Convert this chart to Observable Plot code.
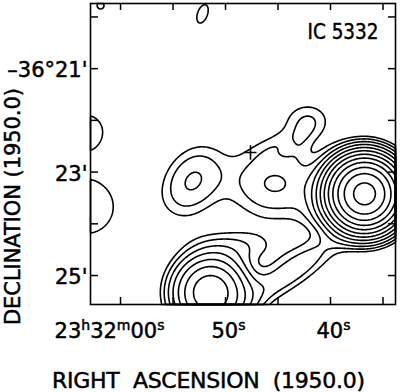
<!DOCTYPE html>
<html><head><meta charset="utf-8">
<script src="https://cdn.jsdelivr.net/npm/d3@7"></script>
<script src="https://cdn.jsdelivr.net/npm/@observablehq/plot@0.6"></script>
<style>
html,body{margin:0;padding:0;background:#fff;}
svg{display:block;}
</style></head><body><div id="chart"></div>
<script>
// ---- text ----
const title = "IC 5332";
const xTitle = "RIGHT  ASCENSION  (1950.0)";
const yTitle = "DECLINATION (1950.0)";
// RA: seconds after 23h31m (60 = 23h32m00s); Dec: arcmin south of -36°
const xDomain = [62.86, 33.81];
const yDomain = [25.56, 19.74];
const xTickValues = [60, 55, 50, 45, 40, 35];
const xLabelValues = [60, 50, 40];
const xLabelTexts = ["23h32m00s", "50s", "40s"];
const yTickValues = [20, 21, 22, 23, 24, 25];
const yLabelValues = [21, 23, 25];
const yLabelTexts = ["\u201336\u00b021'", "23'", "25'"];
// optical position marker
const crossRA = [47.62];
const crossDec = [22.62];
// emission components (RA s, Dec arcmin, peak in units of lowest contour, widths arcsec, angle deg)
const compRA    = [36.76, 51.43, 53.24, 45.33, 42.19, 63.24, 63.24, 52.19, 61.90, 43.81, 48.57, 42.76, 45.24, 41.43];
const compDec   = [23.42, 25.33, 23.18, 23.22, 22.00, 22.20, 23.67, 19.94, 19.78, 24.94, 24.42, 22.45, 22.45, 23.84];
const compPeak  = [102, 15.6, 2.28, 2.35, 1.44, 1.45, 1.48, 1.1, 1.05, 2.0, 1.15, 0.45, 0.6, 0.6];
const compMajor = [21.9, 24.8, 32, 38, 22, 20.2, 34.8, 25.5, 12.8, 52, 35, 16.2, 23.2, 17.4];
const compMinor = [21.9, 24.8, 23, 30, 17.4, 20.2, 34.8, 13.2, 12.8, 14, 14, 8.1, 9.3, 17.4];
const compAngle = [0, 0, -60, 0, 0, 0, 0, -70, 0, -34.5, 0, -65, -25, 0];
// contour levels
const levels = [1, 1.5, 2.25, 3.375, 5.06, 7.59, 11.39, 17.09, 25.6, 38.4, 57.7, 86.5];

const raToArcsec = 12.17, decToArcsec = 60;
function field(ra, dec) {
  let v = 0;
  for (let i = 0; i < compRA.length; i++) {
    const dx = (compRA[i] - ra) * raToArcsec;
    const dy = (dec - compDec[i]) * decToArcsec;
    const t = compAngle[i] * Math.PI / 180;
    const u = dx * Math.cos(t) + dy * Math.sin(t);
    const w = -dx * Math.sin(t) + dy * Math.cos(t);
    const a = compMajor[i], b = compMinor[i];
    v += compPeak[i] * Math.exp(-0.5 * (u * u / (a * a) + w * w / (b * b)));
  }
  return v;
}

const W = 400, H = 392, mL = 90, mR = 5, mT = 3, mB = 88;
const fw = W - mL - mR, fh = H - mT - mB;
const font = "DejaVu Sans";
const plusSymbol = {draw(ctx, size) { const r = Math.sqrt(size / Math.PI); ctx.moveTo(-r, 0); ctx.lineTo(r, 0); ctx.moveTo(0, -r * 1.2); ctx.lineTo(0, r * 1.2); }};
const txt = {fill: "black", stroke: "black", strokeWidth: 0.5, fontFamily: font};
const xLabelData = xLabelValues.map((v, i) => ({v, t: xLabelTexts[i]}));

const plot = Plot.plot({
  width: W, height: H, marginLeft: mL, marginRight: mR, marginTop: mT, marginBottom: mB,
  style: {fontFamily: font, background: "#fff", color: "#000"},
  x: {type: "linear", domain: xDomain, axis: null},
  y: {type: "linear", domain: yDomain, axis: null},
  marks: [
    Plot.contour({value: field, x1: xDomain[1], x2: xDomain[0], y1: yDomain[1], y2: yDomain[0],
      thresholds: levels, stroke: "black", strokeWidth: 1.6, fill: "none", pixelSize: 1, smooth: true}),
    Plot.dot(crossRA.map((r, i) => ({ra: r, dec: crossDec[i]})), {x: "ra", y: "dec", symbol: plusSymbol, r: 6, stroke: "black", strokeWidth: 1.6, fill: "none"}),
    Plot.tickY(yTickValues, {y: d => d, insetRight: fw - 8, stroke: "black", strokeWidth: 1.5}),
    Plot.tickY(yTickValues, {y: d => d, insetLeft: fw - 7, stroke: "black", strokeWidth: 1.5}),
    Plot.tickX(xTickValues, {x: d => d, insetTop: fh - 7, stroke: "black", strokeWidth: 1.5}),
    Plot.tickX(xTickValues, {x: d => d, insetBottom: fh - 7, stroke: "black", strokeWidth: 1.5}),
    Plot.frame({stroke: "black", strokeWidth: 1.6}),
    Plot.text(xLabelData.slice(0, 1), {x: "v", text: "t", frameAnchor: "bottom", dx: -11, dy: 27, lineAnchor: "middle", fontSize: 21, ...txt, className: "xlab"}),
    Plot.text(xLabelData.slice(1), {x: "v", text: "t", frameAnchor: "bottom", dx: 3, dy: 27, lineAnchor: "middle", fontSize: 21, ...txt, className: "xlab"}),
    Plot.text(yLabelValues.map((v, i) => ({v, t: yLabelTexts[i]})), {y: "v", text: "t", frameAnchor: "left", dx: -3, dy: 2, textAnchor: "end", lineAnchor: "middle", fontSize: 21, ...txt, className: "ylab"}),
    Plot.text([title], {text: d => d, frameAnchor: "top-right", dx: -17, dy: 28.5, textAnchor: "end", lineAnchor: "middle", fontSize: 22, ...txt, className: "ttl"}),
    Plot.text([xTitle], {text: d => d, frameAnchor: "bottom", dx: -34.5, dy: 76, textAnchor: "middle", lineAnchor: "middle", fontSize: 22, ...txt, className: "xttl"}),
    Plot.text([yTitle], {text: d => d, frameAnchor: "left", dx: -77.5, dy: 52.5, rotate: -90, textAnchor: "middle", lineAnchor: "middle", fontSize: 21, ...txt, className: "yttl"})
  ]
});
document.getElementById("chart").appendChild(plot);

// superscript h, m, s in RA labels
plot.querySelectorAll(".xlab text").forEach(el => {
  const s = el.textContent;
  el.textContent = "";
  const ns = "http://www.w3.org/2000/svg";
  let raised = false;
  for (const part of s.match(/[0-9]+|[hms]/g)) {
    const sup = /[hms]/.test(part);
    const ts = document.createElementNS(ns, "tspan");
    ts.textContent = part;
    if (sup && !raised) { ts.setAttribute("dy", "-8"); raised = true; }
    else if (!sup && raised) { ts.setAttribute("dy", "8"); raised = false; }
    if (sup) ts.setAttribute("font-size", "14");
    el.appendChild(ts);
  }
});
plot.querySelectorAll(".xttl text").forEach(el => el.setAttribute("textLength", 313));
plot.querySelectorAll(".yttl text").forEach(el => el.setAttribute("textLength", 237));
plot.querySelectorAll(".ttl text").forEach(el => { el.setAttribute("textLength", 71); el.setAttribute("lengthAdjust", "spacingAndGlyphs"); });
</script></body></html>
